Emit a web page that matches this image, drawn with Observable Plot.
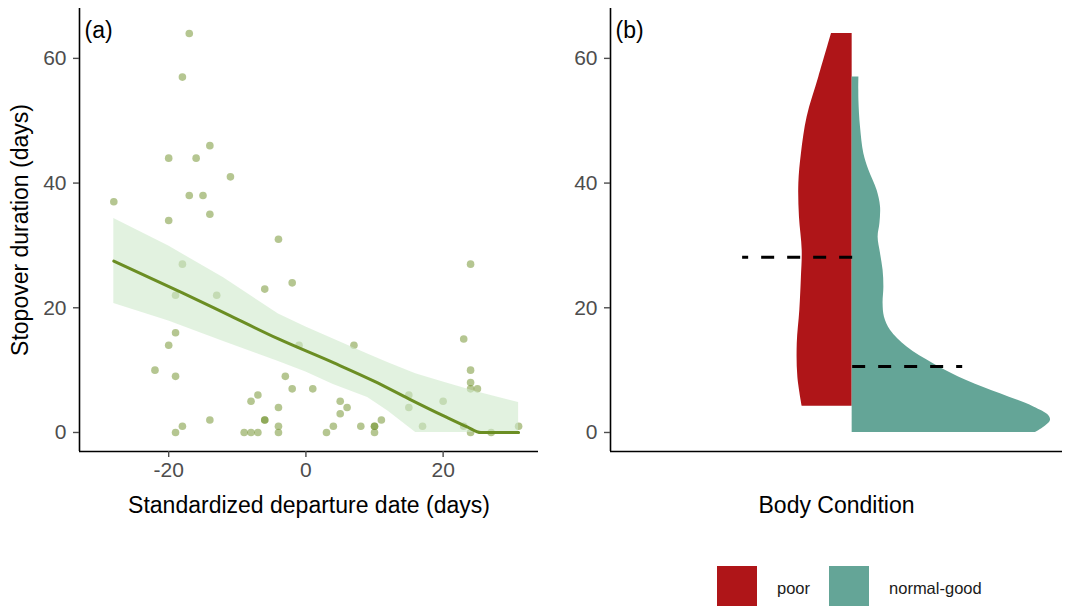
<!DOCTYPE html>
<html><head><meta charset="utf-8">
<script src="https://cdn.jsdelivr.net/npm/d3@7"></script>
<script src="https://cdn.jsdelivr.net/npm/@observablehq/plot@0.6"></script>
<style>
html,body{margin:0;padding:0;background:#fff;}
#wrap{position:relative;width:1065px;height:606px;overflow:hidden;font-family:"Liberation Sans",Arial,sans-serif;background:#fff;}
#pa{position:absolute;left:0;top:0;}
#pb{position:absolute;left:560px;top:0;}
#legend{position:absolute;left:717px;top:566px;display:flex;align-items:flex-start;font-size:16.5px;color:#1a1a1a;}
.sw{width:40px;height:46px;}
.lab{line-height:44px;}
</style></head>
<body>
<div id="wrap">
  <div id="pa"></div>
  <div id="pb"></div>
  <div id="legend"></div>
</div>
<script>
// ---------- Panel (a): scatter ----------
const depDate = [-28,-22,-20,-20,-20,-19,-19,-19,-19,-18,-18,-18,-17,-17,-16,-15,-14,-14,-14,-13,-11,-9,-8,-8,-7,-7,-6,-6,-6,-4,-4,-4,-4,-3,-2,-2,-1,1,3,4,5,5,6,7,8,10,10,10,11,15,15,17,20,23,23,24,24,24,24,24,25,27,31];
const stopover = [37,10,44,34,14,22,16,9,0,57,27,1,64,38,44,38,46,35,2,22,41,0,5,0,6,0,23,2,2,31,4,1,0,9,24,7,14,7,0,1,5,3,4,14,1,1,1,0,2,6,4,1,5,15,1,27,10,8,7,0,7,0,1];

// fitted line and confidence band
const fitX = [-28,-18,-11,-4,4,10,15,20,23.5,25.5,31];
const fitY = [27.5,22.4,18.7,15.0,11.2,8.2,5.4,2.7,0.9,0,0];
const bandX  = [-28,-20,-12,-4,0,4,9,12,16,20,25,31];
const bandLo = [20.7,17.9,14.6,11.4,9.7,7.7,5.6,3.4,0,0,0,0];
const bandHi = [34.3,29.9,24.8,19.0,16.9,15.0,12.6,11.2,9.4,8.1,6.5,4.8];

const xTicksA = [-20,0,20];
const yTicks = [0,20,40,60];
const xDomainA = [-33,33.9];
const yDomain = [-3.05,68];

// ---------- Panel (b): split violin ----------
const conditions = ["poor","normal-good"];
const conditionColors = ["#af1518","#64a597"];
const poorY = [64,57,50.6,44.7,39.9,34.6,29.2,24.9,19.6,14.2,8.9,4.2];
const poorW = [0.104,0.168,0.227,0.256,0.269,0.266,0.252,0.256,0.264,0.277,0.274,0.252];
const goodY = [57,53.3,49,44.7,42.1,38.8,36.2,33.5,31.3,28.7,26,23.3,20.7,18.5,16.4,13.7,11,8.3,6.2,4.1,2.7,1.9,0.85,0];
const goodW = [0.034,0.034,0.042,0.059,0.084,0.126,0.143,0.140,0.131,0.143,0.156,0.160,0.156,0.163,0.193,0.277,0.412,0.580,0.748,0.916,0.992,1.0,0.967,0.924];
const groupMeans = [28.1,10.6];
const meanSide = [-1,1];
const meanLen = 0.555;
const xDomainB = [-1.219,1.061];

const FONT = "Liberation Sans, Arial, sans-serif";
const points = depDate.map((x,i)=>({x, y: stopover[i]}));
const fit = fitX.map((x,i)=>({x, y: fitY[i]}));
const band = bandX.map((x,i)=>({x, lo: bandLo[i], hi: bandHi[i]}));

const axisStyle = {tickSize: 6, label: null, color: "#4d4d4d", fontSize: 21, strokeWidth: 1.4, tickFormat: d => String(d)};
const titleStyle = {text: d => d, fontSize: 23, fill: "black", lineAnchor: "middle", textAnchor: "middle"};
const tagStyle = {text: d => d, frameAnchor: "top-left", dx: 5, dy: 22, textAnchor: "start", lineAnchor: "middle", fontSize: 23, fill: "black"};

const pa = Plot.plot({
  width: 560, height: 530,
  marginLeft: 79, marginRight: 22, marginTop: 8, marginBottom: 79,
  style: {fontFamily: FONT, background: "white", overflow: "visible"},
  x: {domain: xDomainA},
  y: {domain: yDomain},
  marks: [
    Plot.dot(points, {x: "x", y: "y", r: 3.8, fill: "#6b8e23", fillOpacity: 0.5, stroke: "none"}),
    Plot.areaY(band, {x: "x", y1: "lo", y2: "hi", fill: "#cfe9cb", fillOpacity: 0.6}),
    Plot.line(fit, {x: "x", y: "y", stroke: "#6b8e23", strokeWidth: 3, curve: "monotone-x"}),
    Plot.ruleX([xDomainA[0]], {stroke: "black", strokeWidth: 1.6}),
    Plot.ruleY([yDomain[0]], {stroke: "black", strokeWidth: 1.6}),
    Plot.axisX({...axisStyle, ticks: xTicksA, tickPadding: 5}),
    Plot.axisY({...axisStyle, ticks: yTicks, tickPadding: 7}),
    Plot.text(["Standardized departure date (days)"], {...titleStyle, frameAnchor: "bottom", dy: 54}),
    Plot.text(["Stopover duration (days)"], {...titleStyle, frameAnchor: "left", dx: -59, rotate: -90}),
    Plot.text(["(a)"], tagStyle)
  ]
});
document.getElementById("pa").appendChild(pa);

const poor = poorY.map((y,i)=>({y, w: poorW[i]}));
const good = goodY.map((y,i)=>({y, w: goodW[i]}));
const means = groupMeans.map((m,i)=>({m, side: meanSide[i]}));

const pb = Plot.plot({
  width: 505, height: 530,
  marginLeft: 50, marginRight: 3, marginTop: 8, marginBottom: 79,
  style: {fontFamily: FONT, background: "white", overflow: "visible"},
  x: {domain: xDomainB, axis: null},
  y: {domain: yDomain},
  marks: [
    Plot.areaX(poor, {y: "y", x1: 0, x2: d => -d.w, fill: conditionColors[0], curve: "catmull-rom"}),
    Plot.areaX(good, {y: "y", x1: 0, x2: "w", fill: conditionColors[1], curve: "catmull-rom"}),
    Plot.link(means, {x1: 0, x2: d => d.side * meanLen, y1: "m", y2: "m", stroke: "black", strokeWidth: 3, strokeDasharray: "13,13"}),
    Plot.ruleX([xDomainB[0]], {stroke: "black", strokeWidth: 1.6}),
    Plot.ruleY([yDomain[0]], {stroke: "black", strokeWidth: 1.6}),
    Plot.axisY({...axisStyle, ticks: yTicks, tickPadding: 7}),
    Plot.text(["Body Condition"], {...titleStyle, frameAnchor: "bottom", dy: 54}),
    Plot.text(["(b)"], tagStyle)
  ]
});
document.getElementById("pb").appendChild(pb);

// legend
const lg = document.getElementById("legend");
conditions.forEach((c,i) => {
  const sw = document.createElement("div");
  sw.className = "sw"; sw.style.background = conditionColors[i];
  sw.style.marginLeft = i === 0 ? "0px" : "19px";
  const lab = document.createElement("div");
  lab.className = "lab"; lab.textContent = c; lab.style.marginLeft = "20px";
  lg.appendChild(sw); lg.appendChild(lab);
});
</script>
</body></html>
